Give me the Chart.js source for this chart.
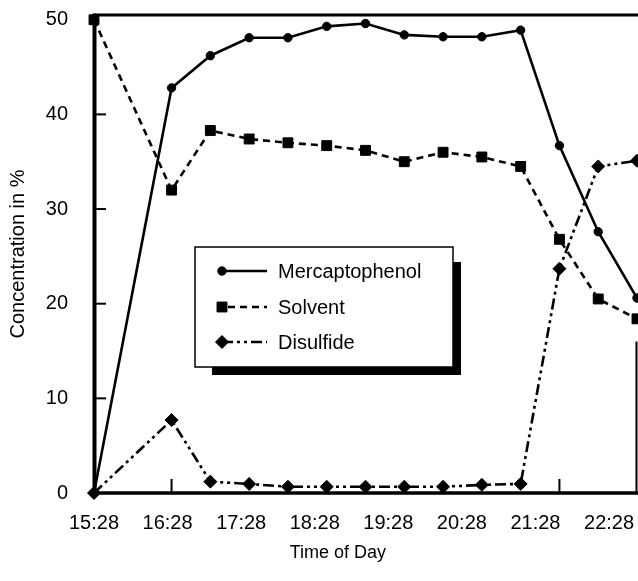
<!DOCTYPE html>
<html><head><meta charset="utf-8">
<script src="https://cdn.jsdelivr.net/npm/chart.js@4/dist/chart.umd.min.js"></script>
<style>html,body{margin:0;padding:0;background:#fff;overflow:hidden}#wrap{width:638px;height:581px;position:relative}</style>
</head><body><div id="wrap"><canvas id="c" width="638" height="581"></canvas></div>
<script>
// ---- data (minutes after 15:28, concentration in %) ----
const sampleMinutes  = [0, 60, 90, 120, 150, 180, 210, 240, 270, 300, 330, 360, 390, 420];
const mercaptophenol = [0, 42.8, 46.2, 48.1, 48.1, 49.3, 49.6, 48.4, 48.2, 48.2, 48.9, 36.7, 27.6, 20.6];
const solvent        = [50.0, 32.0, 38.3, 37.4, 37.0, 36.7, 36.2, 35.0, 36.0, 35.5, 34.5, 26.8, 20.5, 18.4];
const disulfide      = [0, 7.7, 1.2, 0.96, 0.66, 0.66, 0.66, 0.66, 0.66, 0.86, 0.96, 23.7, 34.5, 35.1];
const timeTickLabels = ['15:28', '16:28', '17:28', '18:28', '19:28', '20:28', '21:28', '22:28'];
const seriesNames    = ['Mercaptophenol', 'Solvent', 'Disulfide'];
const xAxisTitle     = 'Time of Day';
const yAxisTitle     = 'Concentration in %';

const FONT = '"Liberation Sans", Arial, Helvetica, sans-serif';
const pts = arr => sampleMinutes.map((t, i) => ({x: t, y: arr[i]}));

const framePlugin = {
  id: 'frame',
  beforeDatasetsDraw(chart, args, o) {
    const {ctx, chartArea: a, scales: {x, y}} = chart;
    const ln = (x0, y0, x1, y1, w) => { ctx.lineWidth = w; ctx.beginPath(); ctx.moveTo(x0, y0); ctx.lineTo(x1, y1); ctx.stroke(); };
    ctx.save();
    ctx.strokeStyle = '#000';
    ln(a.left + 0.5, a.top - 1.5, a.left + 0.5, a.bottom + 1.5, 4);
    ln(a.left, a.top, a.right + 1, a.top, 3);
    ln(a.left, a.bottom, a.right + 1, a.bottom, 3.5);
    ln(a.right - 0.5, y.getPixelForValue(o.rightBorderFrom), a.right - 0.5, a.bottom, 2);
    o.innerY.forEach(v => { const p = y.getPixelForValue(v); ln(a.left, p, a.left + 12, p, 2); });
    o.innerX.forEach(v => { const p = x.getPixelForValue(v); ln(p, a.bottom, p, a.bottom - 14, 2); });
    // x axis title
    ctx.fillStyle = '#000';
    ctx.font = o.titleSize + 'px ' + FONT;
    ctx.textAlign = 'center'; ctx.textBaseline = 'middle';
    ctx.fillText(o.titleText, a.left + o.titleFrac * (a.right - a.left), o.titleY);
    ctx.restore();
  }
};

const legendPlugin = {
  id: 'boxLegend',
  afterDatasetsDraw(chart, args, o) {
    const {ctx} = chart;
    ctx.save();
    ctx.fillStyle = '#000';
    ctx.fillRect(o.left + o.shadowX, o.top + o.shadowY, o.width + o.shadowW - o.shadowX, o.height + o.shadowW - o.shadowY);
    ctx.fillStyle = '#fff';
    ctx.fillRect(o.left, o.top, o.width, o.height);
    ctx.strokeStyle = '#000'; ctx.lineWidth = 1.5;
    ctx.strokeRect(o.left, o.top, o.width, o.height);
    chart.data.datasets.forEach((ds, i) => {
      const yy = o.rows[i];
      ctx.strokeStyle = '#000'; ctx.fillStyle = '#000';
      ctx.lineWidth = ds.borderWidth;
      ctx.setLineDash(ds.borderDash || []);
      ctx.lineDashOffset = o.dashOffset[i];
      ctx.beginPath(); ctx.moveTo(o.markerX, yy); ctx.lineTo(o.lineEnd, yy); ctx.stroke();
      ctx.setLineDash([]);
      ctx.lineWidth = 1;
      Chart.helpers.drawPoint(ctx, {pointStyle: ds.pointStyle, radius: ds.pointRadius, rotation: 0, borderWidth: 1}, o.markerX, yy);
      ctx.fillStyle = '#000';
      ctx.font = '20px ' + FONT;
      ctx.textBaseline = 'middle'; ctx.textAlign = 'left';
      ctx.fillText(ds.label, o.textX, yy + 1);
    });
    ctx.restore();
  }
};

const common = {borderColor: '#000', backgroundColor: '#000', pointBackgroundColor: '#000', pointBorderColor: '#000',
  pointBorderWidth: 1, borderWidth: 2.6, tension: 0, clip: false, xAxisID: 'x', yAxisID: 'y'};

new Chart(document.getElementById('c').getContext('2d'), {
  type: 'line',
  data: {datasets: [
    Object.assign({}, common, {label: seriesNames[0], data: pts(mercaptophenol), borderDash: [], pointStyle: 'circle', pointRadius: 4.2}),
    Object.assign({}, common, {label: seriesNames[1], data: pts(solvent), borderDash: [7, 5], pointStyle: 'rect', pointRadius: 7}),
    Object.assign({}, common, {label: seriesNames[2], data: pts(disulfide), borderDash: [11, 4, 3, 4, 3, 4], pointStyle: 'rectRot', pointRadius: 6.5})
  ]},
  options: {
    responsive: false, animation: false, devicePixelRatio: 1,
    layout: {autoPadding: false, padding: {left: 0, top: 15, right: 1, bottom: 0}},
    plugins: {
      legend: {display: false}, tooltip: {enabled: false},
      frame: {innerY: [10, 20, 30, 40], innerX: [60, 360], rightBorderFrom: 16,
        titleText: xAxisTitle, titleSize: 18, titleFrac: 0.449, titleY: 553},
      boxLegend: {left: 195, top: 247, width: 258, height: 120, shadowX: 17, shadowY: 15, shadowW: 8,
        rows: [271, 307, 342], markerX: 222, lineEnd: 267, textX: 278, dashOffset: [0, -6, 0]}
    },
    scales: {
      x: {type: 'linear', display: false, min: 0, max: 420,
        afterFit: s => { s.paddingLeft = 0; s.paddingRight = 0; }},
      x2: {type: 'linear', position: 'bottom', min: 0, max: 442.8,
        grid: {display: false, drawTicks: false}, border: {display: false},
        ticks: {stepSize: 60, includeBounds: false, autoSkip: false, maxRotation: 0, padding: 18, color: '#000',
          font: {family: FONT, size: 20}, callback: v => timeTickLabels[Math.round(v / 60)]},
        afterFit: s => { s.height = 88; s.paddingLeft = 0; s.paddingRight = 0; }},
      y: {type: 'linear', position: 'left', min: 0, max: 50.5,
        grid: {display: false, drawTicks: false}, border: {display: false},
        ticks: {stepSize: 10, includeBounds: false, padding: 26, color: '#000', font: {family: FONT, size: 20}},
        title: {display: true, text: yAxisTitle, color: '#000', font: {family: FONT, size: 20}, padding: {top: 6, bottom: 0}},
        afterFit: s => { s.width = 94; s.paddingTop = 0; s.paddingBottom = 0; }}
    }
  },
  plugins: [framePlugin, legendPlugin]
});
</script></body></html>
